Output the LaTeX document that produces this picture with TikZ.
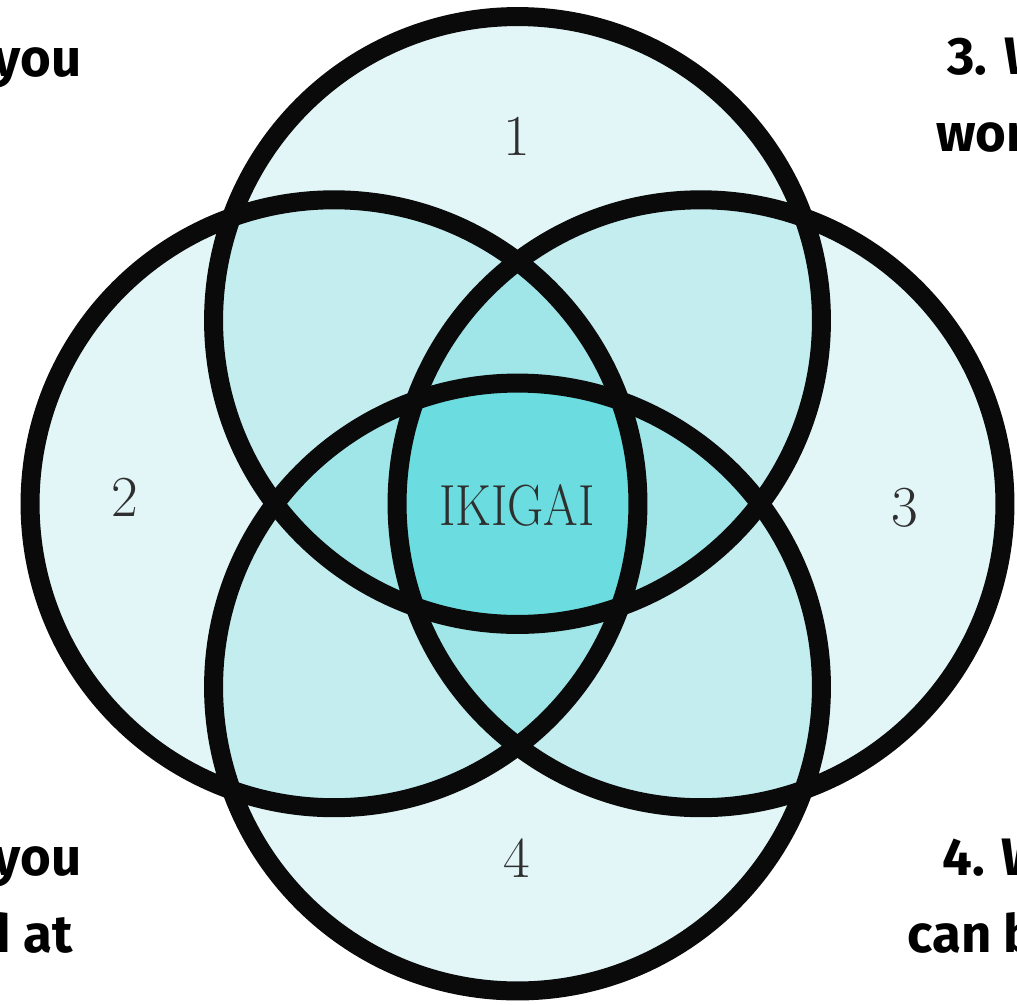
\documentclass[tikz,border=0pt]{standalone}
\usepackage{fontspec}
\usepackage{graphicx}
\newfontfamily\cornerfont{Fira Sans}
\definecolor{cone}{HTML}{E2F6F7}
\definecolor{ctwo}{HTML}{C3EDEF}
\definecolor{cthree}{HTML}{A0E6E8}
\definecolor{cfour}{HTML}{6BDCDF}
\definecolor{ink}{HTML}{0A0A0A}
\begin{document}
\begin{tikzpicture}[x=0.02cm,y=-0.02cm,
  ring/.style={circle,draw=ink,line width=0.38cm,minimum size=12.16cm,inner sep=0pt},
  num/.style={font=\fontsize{33}{40}\selectfont,text=ink!85,inner sep=0pt},
  corner/.style={font=\cornerfont\bfseries\fontsize{30}{40}\selectfont,text=black,inner sep=0pt}]
\useasboundingbox (0,0) rectangle (1017,1004);
\clip (0,0) rectangle (1017,1004);
\fill[white] (0,0) rectangle (1017,1004);
\coordinate (T) at (517.5,320.5);
\coordinate (L) at (334,503.75);
\coordinate (Rc) at (701,503.75);
\coordinate (B) at (517.5,687);
\def\rad{6.08cm}
% single-circle fill
\foreach \c in {T,L,Rc,B} \fill[cone] (\c) circle[radius=\rad];
% pairwise overlaps
\foreach \a/\b in {T/L,T/Rc,B/L,B/Rc,T/B,L/Rc}{
  \begin{scope}
    \clip (\a) circle[radius=\rad];
    \fill[ctwo] (\b) circle[radius=\rad];
  \end{scope}}
% triple overlaps
\foreach \a/\b/\c in {T/L/Rc,T/L/B,T/Rc/B,L/Rc/B}{
  \begin{scope}
    \clip (\a) circle[radius=\rad];
    \clip (\b) circle[radius=\rad];
    \fill[cthree] (\c) circle[radius=\rad];
  \end{scope}}
% all four
\begin{scope}
  \clip (T) circle[radius=\rad];
  \clip (L) circle[radius=\rad];
  \clip (Rc) circle[radius=\rad];
  \fill[cfour] (B) circle[radius=\rad];
\end{scope}
% outlines
\node[ring] (ctop) at (T) {};
\node[ring] (cleft) at (L) {};
\node[ring] (cright) at (Rc) {};
\node[ring] (cbottom) at (B) {};
% labels
\node[num] (n1) at (517,136) {1};
\node[num] (n2) at (125,497) {2};
\node[num] (n3) at (905,508) {3};
\node[num] (n4) at (517,858) {4};
\node[num,anchor=base] (ik) at (517,525) {\scalebox{0.86}[1]{IKIGAI}};
% corner texts (partly outside the page)
\node[corner,anchor=base east] (tl1) at (82,76) {1. What you};
\node[corner,anchor=base west] (tr1) at (947,74) {3. What the};
\node[corner,anchor=base west] (tr2) at (936,151) {world needs};
\node[corner,anchor=base east] (bl1) at (82,875) {2. What you};
\node[corner,anchor=base east] (bl2) at (73,952) {are good at};
\node[corner,anchor=base west] (br1) at (942,875) {4. What you};
\node[corner,anchor=base west] (br2) at (907,952) {can be paid for};
\end{tikzpicture}
\end{document}
